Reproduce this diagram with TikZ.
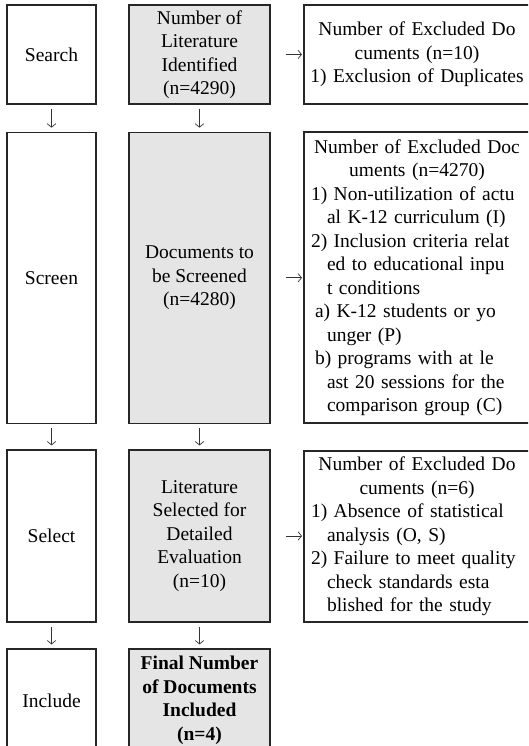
\documentclass[tikz,border=0pt]{standalone}
\usepackage{fontspec}
\setmainfont{Liberation Serif}
\usetikzlibrary{arrows.meta}

\begin{document}
\begin{tikzpicture}[x=1pt, y=-1pt,
  box/.style={draw=black!85, line width=1.1pt, inner sep=0pt,
    font=\fontsize{19.5}{23.5}\selectfont},
  stagebox/.style={box, fill=white, minimum width=89pt, align=center},
  countbox/.style={box, fill=black!10, minimum width=141pt, align=center},
  exclbox/.style={box, fill=white, minimum width=226pt, text width=212pt},
  flow/.style={-{Straight Barb[length=3.5pt,width=8.5pt]}, line width=0.7pt, draw=black!80},
  down/.style={flow, shorten <=4pt, shorten >=4pt},
  across/.style={flow, shorten <=15pt, shorten >=1.5pt}
]
\useasboundingbox (0,0) rectangle (528,746);
\clip (0,0) rectangle (528,746);

% stage column
\node[stagebox, minimum height=99pt]  (search)  at (51.5,54.5)  {Search};
\node[stagebox, minimum height=291pt] (screen)  at (51.5,277.75) {Screen};
\node[stagebox, minimum height=172pt] (select)  at (51.5,536)   {Select};
\node[stagebox, minimum height=103pt] (include) at (51.5,700.5) {Include};

% document counts
\node[countbox, minimum height=99pt]  (ident) at (199.5,54.5)
  {Number of\\Literature\\Identified\\(n=4290)};
\node[countbox, minimum height=291pt] (scr) at (199.5,277.75)
  {Documents to\\be Screened\\(n=4280)};
\node[countbox, minimum height=172pt] (sel) at (199.5,536)
  {Literature\\Selected for\\Detailed\\Evaluation\\(n=10)};
\node[countbox, minimum height=103pt,
  font=\fontsize{19.5}{23.5}\selectfont\bfseries] (fin) at (199.5,700.5)
  {Final Number\\of Documents\\Included\\(n=4)};

% exclusions
\node[exclbox, minimum height=99pt] (ex1) at (417,54.5)
  {\centering Number of Excluded Do\\cuments (n=10)\\
   \makebox[\linewidth][c]{1) Exclusion of Duplicates}\par};
\node[exclbox, minimum height=291pt] (ex2) at (417,277.5)
  {{\centering Number of Excluded Doc\\uments (n=4270)\par}
   1) Non-utilization of actu\\
   \hspace*{16pt}al K-12 curriculum (I)\\
   2) Inclusion criteria relat\\
   \hspace*{16pt}ed to educational inpu\\
   \hspace*{16pt}t conditions\\
   \hspace*{4pt}a) K-12 students or yo\\
   \hspace*{16pt}unger (P)\\
   \hspace*{4pt}b) programs with at le\\
   \hspace*{16pt}ast 20 sessions for the\\
   \hspace*{16pt}comparison group (C)\par};
\node[exclbox, minimum height=171pt] (ex3) at (417,536.5)
  {{\centering Number of Excluded Do\\cuments (n=6)\par}
   1) Absence of statistical\\
   \hspace*{16pt}analysis (O, S)\\
   2) Failure to meet quality\\
   \hspace*{16pt}check standards esta\\
   \hspace*{16pt}blished for the study\par};

% flow downwards
\draw[down] (search) -- (screen);
\draw[down] (screen) -- (select);
\draw[down] (select) -- (include);
\draw[down] (ident) -- (scr);
\draw[down] (scr) -- (sel);
\draw[down] (sel) -- (fin);

% exclusions to the side
\draw[across] (ident.east) -- (ident.east -| ex1.west);
\draw[across] (scr.east) -- (scr.east -| ex2.west);
\draw[across] (sel.east) -- (sel.east -| ex3.west);
\end{tikzpicture}
\end{document}
